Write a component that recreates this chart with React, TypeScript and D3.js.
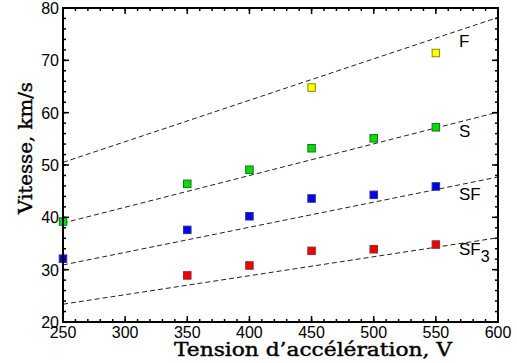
import React from "react";
import * as d3 from "d3";

const voltages = [250, 350, 400, 450, 500, 550];
const seriesF: (number | null)[] = [null, null, null, 64.8, null, 71.4];
const seriesS: (number | null)[] = [39.2, 46.4, 49.1, 53.2, 55.1, 57.2];
const seriesSF: (number | null)[] = [32.1, 37.6, 40.2, 43.6, 44.3, 45.9];
const seriesSF3: (number | null)[] = [null, 28.9, 30.8, 33.6, 33.9, 34.8];

const fitX = [250, 600];
const fitF = [50.5, 78.2];
const fitS = [38.9, 60.1];
const fitSF = [30.9, 47.7];
const fitSF3 = [23.4, 36.1];

const xTicks = [250, 300, 350, 400, 450, 500, 550, 600];
const yTicks = [20, 30, 40, 50, 60, 70, 80];

const W = 517, H = 363;
const L = 63, R = 498, T = 8, B = 322;

export default function App() {
  const x = d3.scaleLinear().domain([250, 600]).range([L, R]);
  const y = d3.scaleLinear().domain([20, 80]).range([B, T]);
  const series = [
    { vals: seriesF, fit: fitF, fill: "#ffff00", stroke: "#8a8a00" },
    { vals: seriesS, fit: fitS, fill: "#00e000", stroke: "#207020" },
    { vals: seriesSF, fit: fitSF, fill: "#0000f0", stroke: "#303090" },
    { vals: seriesSF3, fit: fitSF3, fill: "#f00000", stroke: "#903030" },
  ];
  const xMinor = d3.range(250, 601, 10);
  const yMinor = d3.range(20, 81, 2);
  const line = d3.line<number>().x((_, i) => x(fitX[i])).y((d) => y(d));
  const s = 7.5;
  return (
    <svg width={W} height={H} style={{ position: "absolute", left: 0, top: 0 }}>
      <rect width={W} height={H} fill="#fff" />
      <defs>
        <clipPath id="pc">
          <rect x={L} y={T} width={R - L} height={B - T} />
        </clipPath>
      </defs>
      <g clipPath="url(#pc)">
        {series.map((sr, i) => (
          <path key={i} d={line(sr.fit) || ""} fill="none" stroke="#222" strokeWidth={1} strokeDasharray="5,3" />
        ))}
      </g>
      {series.map((sr, i) =>
        sr.vals.map((v, j) =>
          v == null ? null : (
            <rect key={i + "-" + j} x={x(voltages[j]) - s / 2} y={y(v) - s / 2} width={s} height={s}
              fill={sr.fill} stroke={sr.stroke} strokeWidth={1} />
          )
        )
      )}
      {xMinor.map((v) => (
        <g key={"xm" + v} stroke="#000" strokeWidth={1.5}>
          <line x1={x(v)} x2={x(v)} y1={B} y2={B - 3} />
          <line x1={x(v)} x2={x(v)} y1={T} y2={T + 3} />
        </g>
      ))}
      {yMinor.map((v) => (
        <g key={"ym" + v} stroke="#000" strokeWidth={1.5}>
          <line x1={L} x2={L + 3} y1={y(v)} y2={y(v)} />
          <line x1={R} x2={R - 3} y1={y(v)} y2={y(v)} />
        </g>
      ))}
      {xTicks.map((v) => (
        <g key={"xt" + v}>
          <line x1={x(v)} x2={x(v)} y1={B} y2={B - 6} stroke="#000" strokeWidth={1.5} />
          <line x1={x(v)} x2={x(v)} y1={T} y2={T + 6} stroke="#000" strokeWidth={1.5} />
          <text x={x(v)} y={B + 16} textAnchor="middle" fontFamily="Liberation Sans, Arial, sans-serif" fontSize={16} fill="#000">{v}</text>
        </g>
      ))}
      {yTicks.map((v) => (
        <g key={"yt" + v}>
          <line x1={L} x2={L + 6} y1={y(v)} y2={y(v)} stroke="#000" strokeWidth={1.5} />
          <line x1={R} x2={R - 6} y1={y(v)} y2={y(v)} stroke="#000" strokeWidth={1.5} />
          <text x={L - 4} y={y(v) + 6} textAnchor="end" fontFamily="Liberation Sans, Arial, sans-serif" fontSize={16} fill="#000">{v}</text>
        </g>
      ))}
      <rect x={L} y={T} width={R - L} height={B - T} fill="none" stroke="#000" strokeWidth={2} />
      <text x={459} y={47} fontFamily="Liberation Sans, Arial, sans-serif" fontSize={17} fill="#000">F</text>
      <text x={459} y={137} fontFamily="Liberation Sans, Arial, sans-serif" fontSize={17} fill="#000">S</text>
      <text x={459} y={200} fontFamily="Liberation Sans, Arial, sans-serif" fontSize={17} fill="#000">SF</text>
      <text x={459} y={255} fontFamily="Liberation Sans, Arial, sans-serif" fontSize={17} fill="#000">
        SF<tspan dy={7} fontSize={16}>3</tspan>
      </text>
      <text x={174} y={356} textLength={278} lengthAdjust="spacingAndGlyphs" fontFamily="DejaVu Serif, serif" fontSize={18} stroke="#000" strokeWidth={0.4} fill="#000">Tension d’accélération, V</text>
      <text transform={`translate(32,148) rotate(-90)`} textAnchor="middle" textLength={132} lengthAdjust="spacingAndGlyphs" fontFamily="DejaVu Serif, serif" fontSize={19} stroke="#000" strokeWidth={0.4} fill="#000">Vitesse, km/s</text>
    </svg>
  );
}
